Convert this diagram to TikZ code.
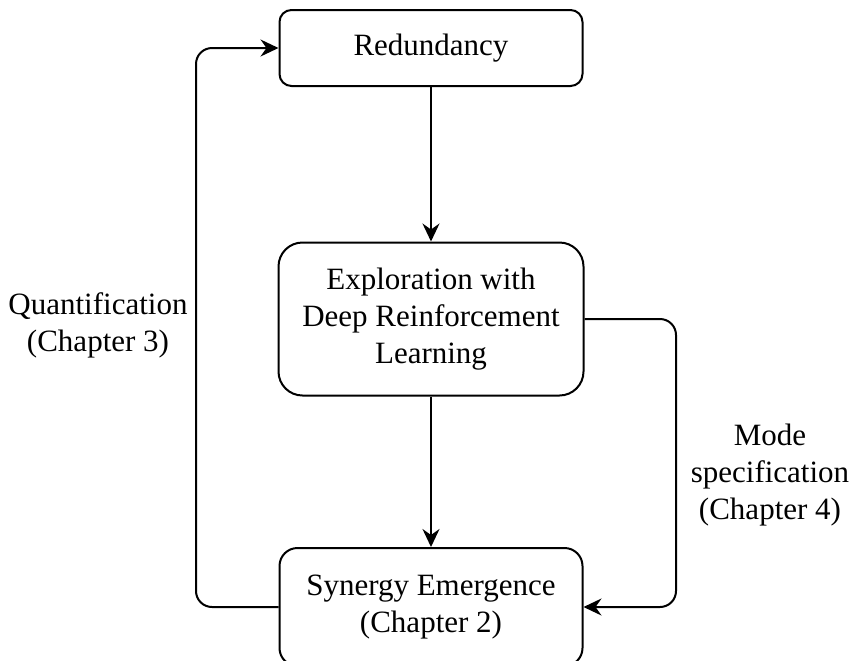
\documentclass[tikz,border=0pt]{standalone}
\usepackage{fontspec}
\setmainfont{Liberation Serif}
\usepackage{tikz}
\usetikzlibrary{arrows.meta}

\begin{document}
\begin{tikzpicture}
    [
      x=0.5pt, y=-0.5pt,
      line width=1pt,
      every node/.style={font=\fontsize{15.5}{18.5}\selectfont, align=center},
      box/.style={draw, minimum width=151.5pt, inner sep=0pt},
      flow/.style={-{Stealth[length=9pt,width=8.5pt,inset=3pt]}},
      loop/.style={flow, rounded corners=8pt}
    ]
    \useasboundingbox (0,0) rectangle (851,660);
    \clip (0,0) rectangle (851,660);
    % boxes
    \node [box, minimum height=38pt, rounded corners=6pt] (red) at (431,48) {Redundancy};
    \node [box, minimum width=152.5pt, minimum height=76.5pt, rounded corners=12pt] (expl) at (431,319)
        {Exploration with\\Deep Reinforcement\\Learning};
    \node [box, minimum height=59pt, rounded corners=9pt] (syn) at (431,607)
        {Synergy Emergence\\(Chapter 2)};
    % side labels
    \node (quant) at (98,325) {Quantification\\(Chapter 3)};
    \node (mode) at (770,475) {Mode\\specification\\(Chapter 4)};
    % straight edges
    \draw [flow] (red) -- (expl);
    \draw [flow] (expl) -- (syn);
    % loop edges
    \draw [loop] (syn.west) -| (196,200) |- (red.west);
    \draw [loop] (expl.east) -| (676,450) |- (syn.east);
\end{tikzpicture}
\end{document}
